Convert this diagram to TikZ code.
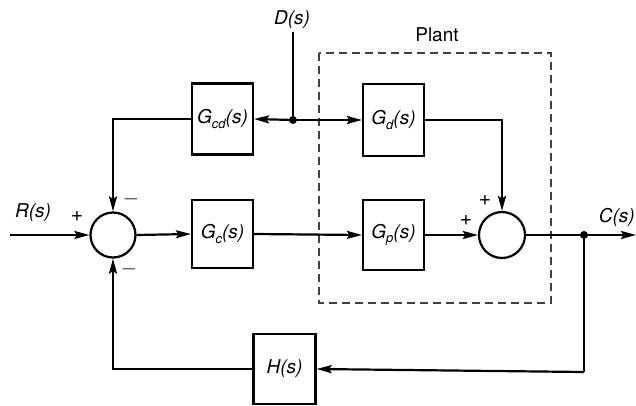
\documentclass[tikz,border=0pt]{standalone}
\usepackage{fontspec}
\setmainfont{TeX Gyre Heros}
\usetikzlibrary{arrows.meta}
\newcommand{\lowsub}[1]{\raisebox{-0.45ex}{\fontsize{13}{13}\selectfont #1}}
\tikzset{
  blk/.style={draw, line width=2.2pt, minimum width=61pt, minimum height=70pt, inner sep=0pt, font=\fontsize{19}{21}\selectfont\itshape},
  sumc/.style={draw, circle, line width=2.2pt, minimum size=45pt, inner sep=0pt},
  sig/.style={line width=2.2pt},
  arr/.style={sig, -{Stealth[length=15pt,width=8pt,inset=2.5pt]}},
  lbl/.style={font=\fontsize{19}{21}\selectfont\itshape, inner sep=0pt},
  sgn/.style={font=\fontsize{21}{22}\selectfont, inner sep=0pt},
  dot/.style={circle, fill, minimum size=8pt, inner sep=0pt},
  plant/.style={draw, dashed, line width=1.2pt, dash pattern=on 8pt off 5pt, black!75}
}
\begin{document}
\begin{tikzpicture}[x=1pt,y=-1pt]
\useasboundingbox (0,0) rectangle (636,406);
% plant frame
\draw[plant] (319,53) rectangle (551,303);
\node[font=\fontsize{19}{21}\selectfont, inner sep=0pt] (plbl) at (437,35) {Plant};
% blocks
\node[blk, minimum height=71pt] (gcd) at (222.5,119) {G\lowsub{cd}(s)};
\node[blk, minimum height=72pt] (gd) at (393.5,120) {G\lowsub{d}(s)};
\node[blk, minimum height=68pt] (gc) at (222.5,234) {G\lowsub{c}(s)};
\node[blk, minimum height=70pt] (gp) at (393.5,235) {G\lowsub{p}(s)};
\node[blk, minimum width=62pt, minimum height=70pt] (h) at (284.5,369) {H(s)};
% summing junctions
\node[sumc] (s1) at (113,235) {};
\node[sumc, minimum size=46pt] (s2) at (502,235) {};
% junction dots
\node[dot] (jd) at (293,120) {};
\node[dot] (jc) at (584,235) {};
% labels
\node[lbl] (dl) at (292,20) {D(s)};
\node[lbl] (rl) at (33,213) {R(s)};
\node[lbl, anchor=east] (cl) at (635,217) {C(s)};
\coordinate (rin) at (10,235);
\coordinate (cout) at (636,235);
\coordinate (dtop) at (293,32);
% signs
\node[sgn] at (77,217) {+};
\node[sgn] at (131,199) {$-$};
\node[sgn] at (129,269) {$-$};
\node[sgn] at (485,201) {+};
\node[sgn] at (466,221) {+};
% connectors
\draw[sig] (dtop) -- (jd.center);
\draw[arr] (jd.center) -- (gcd.east);
\draw[arr] (jd.center) -- (gd.west);
\draw[arr] (gcd.west) -| (s1.north);
\draw[arr] (rin) -- (s1.west);
\draw[arr] (s1.east) -- (gc.west);
\draw[arr] (gc.east) -- (gp.west);
\draw[arr] (gp.east) -- (s2.west);
\draw[arr] (gd.east) -| (s2.north);
\draw[arr] (s2.east) -- (cout);
\draw[sig] (jc.center) -- (584,372) coordinate (fbr);
\draw[arr] (fbr) -- (h.east);
\draw[arr] (h.west) -| (s1.south);
\end{tikzpicture}
\end{document}
